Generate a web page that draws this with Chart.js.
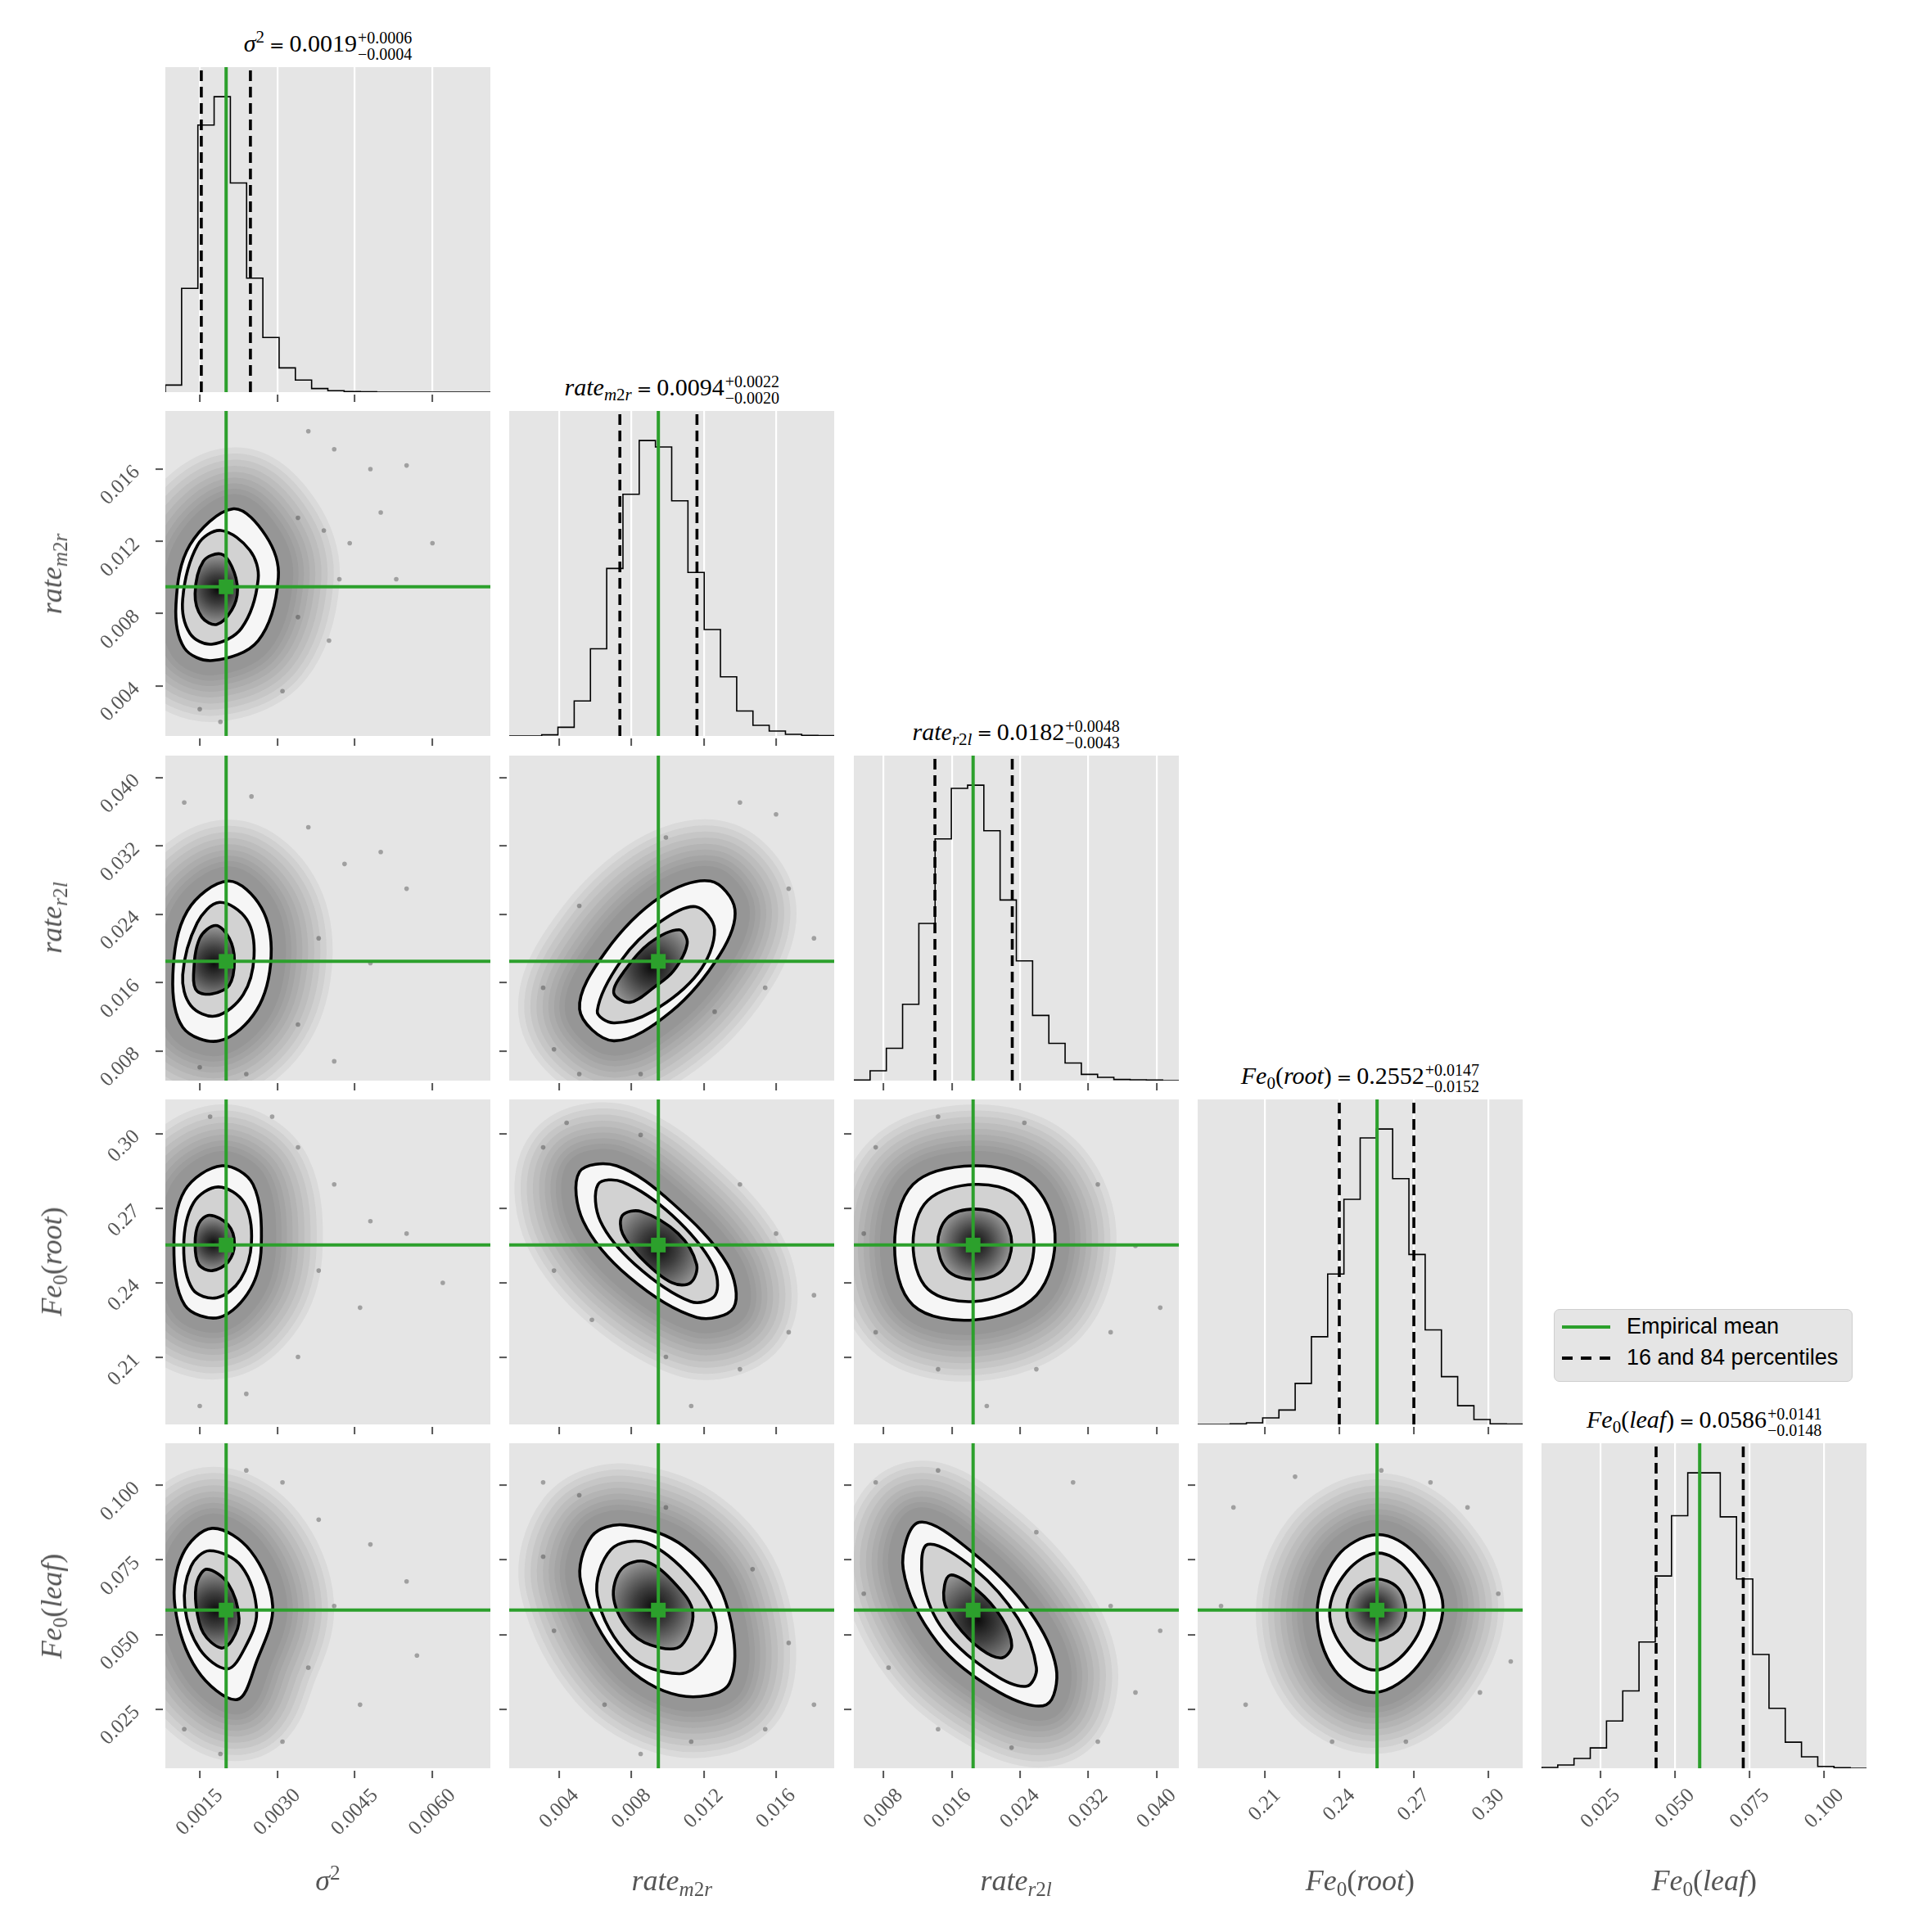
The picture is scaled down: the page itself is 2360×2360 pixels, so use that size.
<!DOCTYPE html>
<html>
<head>
<meta charset="utf-8">
<title>Posterior corner plot</title>
<script src="https://cdn.jsdelivr.net/npm/chart.js@4.4.1/dist/chart.umd.min.js"></script>
<style>
  html, body { margin: 0; padding: 0; background: #fff; }
  #fig { position: relative; width: 2360px; height: 2360px; overflow: hidden; background: #fff; }
  .panel { position: absolute; }
  .math { font-family: "Liberation Serif", "DejaVu Serif", serif; }
  .title { position: absolute; transform: translate(-50%, -50%); white-space: nowrap; font-size: 30px; color: #000; line-height: 1; }
  .title .eq { font-family: "DejaVu Sans", sans-serif; font-size: 22px; margin: 0 6px; }
  .pm { display: inline-block; vertical-align: middle; font-size: 20px; line-height: 20px; margin-left: 1px; }
  .pm span { display: block; }
  .xlab, .ylab { position: absolute; white-space: nowrap; font-size: 36px; color: #555; line-height: 1; }
  .xlab { transform: translate(-50%, -50%); }
  .ylab { transform: translate(-50%, -50%) rotate(-90deg); }
  sub { font-size: 70%; vertical-align: -0.28em; line-height: 0; }
  sup { font-size: 70%; vertical-align: 0.5em; line-height: 0; }
  .legend { position: absolute; left: 1898px; top: 1599px; width: 365px; height: 89px; box-sizing: border-box;
            background: #e5e5e5; border: 1.5px solid #cfcfcf; border-radius: 7px;
            font-family: "Liberation Sans", Arial, sans-serif; font-size: 27px; color: #000; }
  .lrow { position: absolute; left: 0; right: 0; height: 0; }
  .sw { position: absolute; left: 9px; width: 59px; top: -2px; height: 4px; }
  .sw.green { background: #2ca02c; }
  .sw.dash { background: repeating-linear-gradient(90deg, #000 0 13px, transparent 13px 23px); }
  .lt { position: absolute; left: 88px; top: 0; transform: translateY(-52%); line-height: 1; white-space: nowrap; }
</style>
</head>
<body>
<div id="fig">
  <div class="legend">
    <div class="lrow" style="top:21px"><span class="sw green"></span><span class="lt">Empirical mean</span></div>
    <div class="lrow" style="top:59px"><span class="sw dash"></span><span class="lt">16 and 84 percentiles</span></div>
  </div>
</div>
<script>
// ---- parameters (sigma^2, rate_m2r, rate_r2l, Fe0(root), Fe0(leaf)) ----
const labelHtml = [
  '<i>σ</i><sup>2</sup>',
  '<i>rate</i><sub><i>m</i>2<i>r</i></sub>',
  '<i>rate</i><sub><i>r</i>2<i>l</i></sub>',
  '<i>Fe</i><sub>0</sub>(<i>root</i>)',
  '<i>Fe</i><sub>0</sub>(<i>leaf</i>)'
];
const axisMin = [0.000835, 0.00122, 0.00454, 0.1830, 0.0052];
const axisMax = [0.00712, 0.01922, 0.04258, 0.3138, 0.1141];
const tickLabels = [
  ['0.0015', '0.0030', '0.0045', '0.0060'],
  ['0.004', '0.008', '0.012', '0.016'],
  ['0.008', '0.016', '0.024', '0.032', '0.040'],
  ['0.21', '0.24', '0.27', '0.30'],
  ['0.025', '0.050', '0.075', '0.100']
];
const means = [0.00201, 0.00948, 0.0185, 0.2552, 0.0582];
const q16 = [0.00153, 0.00735, 0.01403, 0.2400, 0.0436];
const q84 = [0.00248, 0.01162, 0.02308, 0.2700, 0.0728];
const titleMed = ['0.0019', '0.0094', '0.0182', '0.2552', '0.0586'];
const titlePlus = ['0.0006', '0.0022', '0.0048', '0.0147', '0.0141'];
const titleMinus = ['0.0004', '0.0020', '0.0043', '0.0152', '0.0148'];

// 20-bin histogram heights (relative counts)
const hist0 = [24, 351, 904, 1000, 708, 386, 185, 82, 41, 12, 5, 2, 1, 0, 0, 0, 0, 0, 0, 0];
const hist1 = [0, 0, 4, 32, 129, 321, 617, 890, 1088, 1064, 866, 602, 392, 218, 92, 39, 18, 6, 2, 1];
const hist2 = [2, 36, 119, 281, 579, 890, 1076, 1088, 920, 665, 441, 240, 137, 65, 23, 12, 4, 3, 2, 0];
const hist3 = [0, 0, 2, 6, 24, 53, 151, 323, 554, 829, 1055, 1088, 905, 626, 348, 176, 69, 18, 2, 1];
const hist4 = [3, 12, 36, 75, 174, 285, 465, 708, 930, 1088, 1088, 926, 697, 419, 221, 96, 42, 7, 2, 0];

// ---- 2D panels: contour outlines (outer / middle / inner) and sparse samples ----
const out_1_0 = [[0.00215,0.0138],[0.00278,0.0123],[0.00302,0.0100],[0.00263,0.0065],[0.00175,0.0054],[0.00120,0.0061],[0.00104,0.0085],[0.00131,0.0118]];
const mid_1_0 = [[0.00191,0.0126],[0.00247,0.0115],[0.00263,0.0099],[0.00231,0.0072],[0.00173,0.0063],[0.00131,0.0069],[0.00117,0.0088],[0.00146,0.0118]];
const inn_1_0 = [[0.00191,0.0113],[0.00212,0.0106],[0.00223,0.0093],[0.00212,0.0082],[0.00183,0.0074],[0.00154,0.0078],[0.00141,0.0091],[0.00157,0.0109]];
const pts_1_0 = [[0.0036,0.0181],[0.0041,0.0171],[0.0048,0.0160],[0.0055,0.0162],[0.0034,0.0133],[0.0039,0.0126],[0.0044,0.0119],[0.0050,0.0136],[0.0034,0.0078],[0.0040,0.0065],[0.0031,0.0037],[0.0019,0.0020],[0.0015,0.0027],[0.0042,0.0099],[0.0060,0.0119],[0.0053,0.0099]];

const out_2_0 = [[0.00205,0.0279],[0.00269,0.0248],[0.00288,0.0191],[0.00260,0.0128],[0.00188,0.0092],[0.00117,0.0108],[0.00098,0.0169],[0.00126,0.0244]];
const mid_2_0 = [[0.00188,0.0254],[0.00241,0.0234],[0.00255,0.0191],[0.00234,0.0146],[0.00181,0.0121],[0.00133,0.0133],[0.00117,0.0169],[0.00145,0.0230]];
const inn_2_0 = [[0.00181,0.0227],[0.00207,0.0212],[0.00217,0.0186],[0.00207,0.0157],[0.00174,0.0147],[0.00145,0.0150],[0.00138,0.0169],[0.00150,0.0212]];
const pts_2_0 = [[0.0036,0.0342],[0.0043,0.0299],[0.0050,0.0313],[0.0055,0.0270],[0.0038,0.0212],[0.0048,0.0183],[0.0034,0.0111],[0.0041,0.0068],[0.0024,0.0053],[0.0015,0.0061],[0.0012,0.0371],[0.0025,0.0378]];

const out_3_0 = [[0.00193,0.2871],[0.00253,0.2796],[0.00269,0.2548],[0.00248,0.2375],[0.00188,0.2261],[0.00121,0.2310],[0.00100,0.2548],[0.00121,0.2772]];
const mid_3_0 = [[0.00186,0.2786],[0.00236,0.2722],[0.00250,0.2563],[0.00229,0.2414],[0.00183,0.2340],[0.00136,0.2375],[0.00119,0.2548],[0.00138,0.2722]];
const inn_3_0 = [[0.00169,0.2672],[0.00205,0.2633],[0.00217,0.2558],[0.00205,0.2484],[0.00174,0.2449],[0.00148,0.2474],[0.00141,0.2558],[0.00148,0.2638]];
const pts_3_0 = [[0.0034,0.2945],[0.0041,0.2796],[0.0048,0.2648],[0.0055,0.2598],[0.0038,0.2449],[0.0046,0.2300],[0.0034,0.2102],[0.0024,0.1953],[0.0015,0.1904],[0.0017,0.3069],[0.0029,0.3069],[0.0062,0.2400]];

const out_4_0 = [[0.00174,0.0856],[0.00248,0.0781],[0.00291,0.0596],[0.00260,0.0410],[0.00222,0.0282],[0.00145,0.0381],[0.00102,0.0596],[0.00117,0.0769]];
const mid_4_0 = [[0.00169,0.0781],[0.00231,0.0728],[0.00260,0.0575],[0.00236,0.0451],[0.00203,0.0385],[0.00150,0.0451],[0.00121,0.0596],[0.00133,0.0728]];
const inn_4_0 = [[0.00164,0.0719],[0.00205,0.0670],[0.00226,0.0554],[0.00212,0.0480],[0.00191,0.0455],[0.00157,0.0505],[0.00143,0.0596],[0.00145,0.0678]];
const pts_4_0 = [[0.0031,0.1010],[0.0038,0.0885],[0.0048,0.0802],[0.0055,0.0678],[0.0041,0.0596],[0.0036,0.0389],[0.0046,0.0265],[0.0031,0.0141],[0.0019,0.0100],[0.0012,0.0183],[0.0024,0.1050],[0.0057,0.0430]];

const out_2_1 = [[0.01236,0.0279],[0.01372,0.0246],[0.01289,0.0193],[0.01018,0.0126],[0.00701,0.0092],[0.00512,0.0129],[0.00655,0.0196],[0.00957,0.0260]];
const mid_2_1 = [[0.01154,0.0249],[0.01259,0.0222],[0.01168,0.0171],[0.00912,0.0126],[0.00701,0.0113],[0.00610,0.0127],[0.00746,0.0187],[0.00957,0.0231]];
const inn_2_1 = [[0.01063,0.0222],[0.01108,0.0206],[0.01033,0.0174],[0.00927,0.0155],[0.00791,0.0137],[0.00701,0.0148],[0.00761,0.0174],[0.00897,0.0206]];
const pts_2_1 = [[0.0031,0.0154],[0.0037,0.0082],[0.0051,0.0053],[0.0085,0.0053],[0.0126,0.0126],[0.0154,0.0154],[0.0167,0.0270],[0.0160,0.0357],[0.0140,0.0371],[0.0099,0.0330],[0.0051,0.0250],[0.0181,0.0212]];

const out_3_1 = [[0.00716,0.2871],[0.01024,0.2722],[0.01331,0.2474],[0.01365,0.2300],[0.01160,0.2261],[0.00785,0.2424],[0.00532,0.2648],[0.00511,0.2846]];
const mid_3_1 = [[0.00750,0.2806],[0.01024,0.2672],[0.01249,0.2474],[0.01263,0.2350],[0.01126,0.2325],[0.00819,0.2474],[0.00627,0.2648],[0.00614,0.2796]];
const inn_3_1 = [[0.00853,0.2687],[0.01058,0.2598],[0.01160,0.2474],[0.01126,0.2400],[0.01024,0.2400],[0.00867,0.2489],[0.00750,0.2598],[0.00750,0.2672]];
const pts_3_1 = [[0.0031,0.2945],[0.0044,0.3044],[0.0085,0.2995],[0.0140,0.2796],[0.0160,0.2598],[0.0167,0.2201],[0.0140,0.2052],[0.0099,0.2102],[0.0058,0.2251],[0.0037,0.2449],[0.0181,0.2350],[0.0113,0.1904]];

const out_4_1 = [[0.00761,0.0867],[0.01093,0.0794],[0.01320,0.0611],[0.01342,0.0337],[0.01063,0.0296],[0.00746,0.0410],[0.00519,0.0675],[0.00580,0.0830]];
const mid_4_1 = [[0.00882,0.0807],[0.01139,0.0684],[0.01267,0.0538],[0.01199,0.0419],[0.01063,0.0369],[0.00791,0.0428],[0.00610,0.0629],[0.00686,0.0785]];
const inn_4_1 = [[0.00882,0.0744],[0.01048,0.0666],[0.01139,0.0574],[0.01078,0.0465],[0.00957,0.0456],[0.00806,0.0501],[0.00701,0.0620],[0.00746,0.0721]];
const pts_4_1 = [[0.0031,0.1010],[0.0051,0.0967],[0.0099,0.0926],[0.0147,0.0719],[0.0167,0.0472],[0.0154,0.0183],[0.0113,0.0141],[0.0065,0.0265],[0.0037,0.0513],[0.0031,0.0761],[0.0181,0.0265],[0.0085,0.0100]];

const out_3_2 = [[0.01869,0.2871],[0.02519,0.2806],[0.02808,0.2598],[0.02591,0.2350],[0.01869,0.2251],[0.01147,0.2310],[0.00931,0.2548],[0.01147,0.2796]];
const mid_3_2 = [[0.01869,0.2796],[0.02375,0.2747],[0.02562,0.2573],[0.02418,0.2400],[0.01869,0.2325],[0.01320,0.2375],[0.01147,0.2558],[0.01320,0.2732]];
const inn_3_2 = [[0.01869,0.2697],[0.02187,0.2662],[0.02302,0.2558],[0.02187,0.2449],[0.01869,0.2414],[0.01551,0.2449],[0.01436,0.2558],[0.01551,0.2662]];
const pts_3_2 = [[0.0071,0.2945],[0.0144,0.3069],[0.0245,0.3044],[0.0331,0.2796],[0.0375,0.2548],[0.0346,0.2201],[0.0259,0.2052],[0.0144,0.2052],[0.0071,0.2201],[0.0057,0.2598],[0.0404,0.2300],[0.0201,0.1904]];

const out_4_2 = [[0.01219,0.0876],[0.01869,0.0769],[0.02519,0.0575],[0.02822,0.0389],[0.02707,0.0265],[0.02158,0.0306],[0.01436,0.0472],[0.01032,0.0719]];
const mid_4_2 = [[0.01320,0.0802],[0.01869,0.0719],[0.02375,0.0554],[0.02591,0.0389],[0.02476,0.0327],[0.02086,0.0368],[0.01508,0.0513],[0.01263,0.0678]];
const inn_4_2 = [[0.01580,0.0699],[0.01898,0.0649],[0.02187,0.0554],[0.02302,0.0463],[0.02187,0.0422],[0.01941,0.0451],[0.01653,0.0534],[0.01508,0.0616]];
const pts_4_2 = [[0.0071,0.1010],[0.0144,0.1050],[0.0259,0.0843],[0.0346,0.0596],[0.0375,0.0306],[0.0331,0.0141],[0.0230,0.0121],[0.0144,0.0183],[0.0086,0.0389],[0.0057,0.0637],[0.0404,0.0513],[0.0302,0.1010]];

const out_4_3 = [[0.2554,0.0835],[0.2708,0.0769],[0.2817,0.0596],[0.2718,0.0397],[0.2544,0.0306],[0.2381,0.0381],[0.2311,0.0575],[0.2390,0.0761]];
const mid_4_3 = [[0.2554,0.0773],[0.2673,0.0719],[0.2743,0.0583],[0.2673,0.0447],[0.2544,0.0381],[0.2425,0.0443],[0.2361,0.0575],[0.2430,0.0711]];
const inn_4_3 = [[0.2544,0.0686],[0.2634,0.0658],[0.2668,0.0579],[0.2634,0.0513],[0.2544,0.0480],[0.2460,0.0513],[0.2430,0.0579],[0.2460,0.0649]];
const pts_4_3 = [[0.1974,0.0926],[0.2222,0.1029],[0.2569,0.1050],[0.2916,0.0926],[0.3040,0.0637],[0.2966,0.0306],[0.2668,0.0141],[0.2371,0.0141],[0.2023,0.0265],[0.1924,0.0596],[0.3090,0.0410],[0.2767,0.1010]];

// ---------------------------------------------------------------------------
const hists = [hist0, hist1, hist2, hist3, hist4];
const pairs = [
  { r: 1, c: 0, outer: out_1_0, mid: mid_1_0, inner: inn_1_0, pts: pts_1_0 },
  { r: 2, c: 0, outer: out_2_0, mid: mid_2_0, inner: inn_2_0, pts: pts_2_0 },
  { r: 3, c: 0, outer: out_3_0, mid: mid_3_0, inner: inn_3_0, pts: pts_3_0 },
  { r: 4, c: 0, outer: out_4_0, mid: mid_4_0, inner: inn_4_0, pts: pts_4_0 },
  { r: 2, c: 1, outer: out_2_1, mid: mid_2_1, inner: inn_2_1, pts: pts_2_1 },
  { r: 3, c: 1, outer: out_3_1, mid: mid_3_1, inner: inn_3_1, pts: pts_3_1 },
  { r: 4, c: 1, outer: out_4_1, mid: mid_4_1, inner: inn_4_1, pts: pts_4_1 },
  { r: 3, c: 2, outer: out_3_2, mid: mid_3_2, inner: inn_3_2, pts: pts_3_2 },
  { r: 4, c: 2, outer: out_4_2, mid: mid_4_2, inner: inn_4_2, pts: pts_4_2 },
  { r: 4, c: 3, outer: out_4_3, mid: mid_4_3, inner: inn_4_3, pts: pts_4_3 }
];

// layout of the grid (px)
const GRID_LEFT = 202, GRID_TOP = 82, PANEL = 397, STEP = 420.3;
const GREEN = '#2ca02c';
const fig = document.getElementById('fig');

Chart.defaults.animation = false;
Chart.defaults.font.family = '"Liberation Serif", "DejaVu Serif", serif';
Chart.defaults.plugins.legend.display = false;
Chart.defaults.plugins.tooltip.enabled = false;

// grey panel background
const panelBg = {
  id: 'panelBg',
  beforeDraw(chart) {
    const { ctx, chartArea: a } = chart;
    ctx.save();
    ctx.fillStyle = '#e5e5e5';
    ctx.fillRect(a.left, a.top, a.right - a.left, a.bottom - a.top);
    ctx.restore();
  }
};

// contour outlines are closed curves: let the line element wrap around
const closeShapes = {
  id: 'closeShapes',
  afterDatasetUpdate(chart, args) {
    const ds = chart.data.datasets[args.index];
    if (ds && ds.closedShape && args.meta.dataset) {
      args.meta.dataset._loop = true;
      args.meta.dataset._fullLoop = true;
    }
  }
};

// shift so that rotated x labels end up centred on their tick
const meas = document.createElement('canvas').getContext('2d');
meas.font = '25px "Liberation Serif"';
function xShift(v) {
  const w = Math.max(...tickLabels[v].map(t => meas.measureText(t).width));
  return w * 0.354;
}

const xy = arr => arr.map(p => ({ x: p[0], y: p[1] }));

function axis(dir, v, showLabels, marks, grid, size) {
  const vals = tickLabels[v].map(Number);
  const isX = dir === 'x';
  return {
    type: 'linear',
    position: isX ? 'bottom' : 'left',
    min: axisMin[v], max: axisMax[v],
    afterBuildTicks: s => { s.ticks = vals.map(value => ({ value })); },
    afterFit: s => {
      if (isX) s.height = size; else s.width = size;
      s.paddingLeft = s.paddingRight = s.paddingTop = s.paddingBottom = 0;
    },
    border: { display: false },
    grid: {
      display: marks, drawOnChartArea: grid, color: '#ffffff', lineWidth: 2.2,
      drawTicks: true, tickLength: 12, tickWidth: 2, tickColor: '#555555',
      tickBorderDash: isX ? [0, 3, 9, 12] : [9, 3]
    },
    ticks: {
      display: showLabels, autoSkip: false, minRotation: 45, maxRotation: 45,
      padding: isX ? 7 : 23, labelOffset: isX ? xShift(v) : 0,
      color: '#555555', font: { size: 25 },
      callback: (val, i) => tickLabels[v][i]
    }
  };
}

function makeCanvas(r, c) {
  const PL = (c === 0 && r > 0) ? 200 : 16;
  const PB = r === 4 ? 170 : 16;
  const PT = 4, PR = 4;
  const left = Math.round(GRID_LEFT + c * STEP) - PL;
  const top = Math.round(GRID_TOP + r * STEP) - PT;
  const w = PL + PANEL + PR, h = PT + PANEL + PB;
  const div = document.createElement('div');
  div.className = 'panel';
  div.style.left = left + 'px'; div.style.top = top + 'px';
  div.style.width = w + 'px'; div.style.height = h + 'px';
  const cv = document.createElement('canvas');
  cv.width = w; cv.height = h;
  cv.style.width = w + 'px'; cv.style.height = h + 'px';
  div.appendChild(cv);
  fig.appendChild(div);
  return { cv, PL, PB, PT, PR };
}

// darker towards the middle of the innermost contour
function innerFill(ctx) {
  const chart = ctx.chart;
  const xs = chart.scales.x, ys = chart.scales.y;
  const data = chart.data.datasets[ctx.datasetIndex].data;
  if (!xs || !ys || !chart.chartArea) return '#6f6f6f';
  const px = data.map(p => [xs.getPixelForValue(p.x), ys.getPixelForValue(p.y)]);
  const cx = px.reduce((s, p) => s + p[0], 0) / px.length;
  const cy = px.reduce((s, p) => s + p[1], 0) / px.length;
  const rad = Math.max(...px.map(p => Math.hypot(p[0] - cx, p[1] - cy)));
  if (!isFinite(cx) || !isFinite(rad) || rad <= 0) return '#6f6f6f';
  const g = chart.ctx.createRadialGradient(cx, cy, 0, cx, cy, rad);
  g.addColorStop(0, '#0c0c0c');
  g.addColorStop(0.4, '#3e3e3e');
  g.addColorStop(1, '#9c9c9c');
  return g;
}

function finish(list) {
  list.forEach((d, i) => {
    d.order = 100 - i;
    d.clip = 0;
    if (d.pointRadius === undefined) d.pointRadius = 0;
    d.pointHoverRadius = 0;
  });
  return list;
}

const chartOptions = (PT, PR, x, y) => ({
  responsive: false,
  layout: { autoPadding: false, padding: { top: PT, right: PR, left: 0, bottom: 0 } },
  scales: { x, y }
});

// ---- 2D panels ----
const HALO = [150, 135, 120, 105, 90, 76, 62, 49, 36];
pairs.forEach(p => {
  const { cv, PL, PB, PT, PR } = makeCanvas(p.r, p.c);
  const xv = p.c, yv = p.r;
  const contour = (arr, bg) => ({
    data: xy(arr), closedShape: true, borderColor: '#000', borderWidth: 3.6, tension: 0.35,
    fill: 'shape', backgroundColor: bg, borderJoinStyle: 'round'
  });
  // soft band of dense samples around the outer contour
  const halo = HALO.map(w => ({
    data: xy(p.outer), closedShape: true, borderColor: 'rgba(30,30,30,0.055)', borderWidth: w,
    tension: 0.35, fill: false, borderJoinStyle: 'round'
  }));
  const datasets = finish([
    { data: xy(p.pts), showLine: false, pointRadius: 2.8,
      pointBackgroundColor: 'rgba(0,0,0,0.3)', pointBorderWidth: 0 },
    ...halo,
    contour(p.outer, '#f6f6f6'),
    contour(p.mid, '#d2d2d2'),
    contour(p.inner, innerFill),
    { data: [{ x: means[xv], y: axisMin[yv] }, { x: means[xv], y: axisMax[yv] }], borderColor: GREEN, borderWidth: 4 },
    { data: [{ x: axisMin[xv], y: means[yv] }, { x: axisMax[xv], y: means[yv] }], borderColor: GREEN, borderWidth: 4 },
    { data: [{ x: means[xv], y: means[yv] }], showLine: false, pointStyle: 'rect', pointRadius: 12.7,
      pointBackgroundColor: GREEN, pointBorderWidth: 0 }
  ]);
  new Chart(cv, {
    type: 'line',
    data: { datasets },
    options: chartOptions(PT, PR,
      axis('x', xv, p.r === 4, true, false, PB),
      axis('y', yv, p.c === 0, true, false, PL)),
    plugins: [panelBg, closeShapes]
  });
});

// ---- 1D histograms on the diagonal ----
hists.forEach((counts, k) => {
  const { cv, PL, PB, PT, PR } = makeCanvas(k, k);
  const lo = axisMin[k], hi = axisMax[k], n = counts.length;
  const edge = i => lo + (hi - lo) * i / n;
  const step = [{ x: edge(0), y: 0 }];
  counts.forEach((c, i) => { step.push({ x: edge(i), y: c }); step.push({ x: edge(i + 1), y: c }); });
  step.push({ x: edge(n), y: 0 });
  const top = Math.max(...counts) * 1.1;
  const vline = (x, color, width, dash) => ({
    data: [{ x, y: 0 }, { x, y: top }], borderColor: color, borderWidth: width, borderDash: dash || []
  });
  const datasets = finish([
    { data: step, borderColor: '#000', borderWidth: 1.6 },
    vline(q16[k], '#000', 3.6, [13, 7]),
    vline(q84[k], '#000', 3.6, [13, 7]),
    vline(means[k], GREEN, 4)
  ]);
  new Chart(cv, {
    type: 'line',
    data: { datasets },
    options: chartOptions(PT, PR,
      axis('x', k, k === 4, true, true, PB),
      {
        type: 'linear', position: 'left', min: 0, max: top,
        grid: { display: false }, ticks: { display: false }, border: { display: false },
        afterFit: s => { s.width = PL; s.paddingTop = s.paddingBottom = 0; }
      }),
    plugins: [panelBg]
  });
});

// ---- text: titles over the histograms and axis labels ----
function addText(cls, html, x, y) {
  const d = document.createElement('div');
  d.className = cls + ' math';
  d.innerHTML = html;
  d.style.left = x + 'px';
  d.style.top = y + 'px';
  fig.appendChild(d);
}
for (let k = 0; k < 5; k++) {
  const cx = GRID_LEFT + k * STEP + PANEL / 2;
  const rowTop = GRID_TOP + k * STEP;
  addText('title',
    labelHtml[k] + '<span class="eq">=</span>' + titleMed[k] +
    '<span class="pm"><span>+' + titlePlus[k] + '</span><span>\u2212' + titleMinus[k] + '</span></span>',
    cx, rowTop - 26);
  addText('xlab', labelHtml[k], cx, 2297);
  if (k > 0) addText('ylab', labelHtml[k], 63, rowTop + PANEL / 2);
}
</script>
</body>
</html>
